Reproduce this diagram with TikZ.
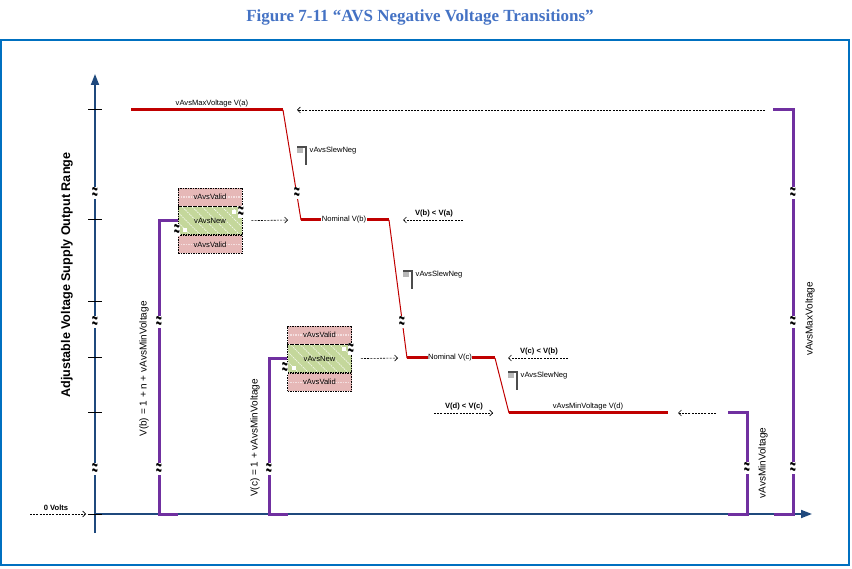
\documentclass[tikz,border=0pt]{standalone}
\usepackage{fontspec}
\setmainfont{Liberation Sans}
\newfontfamily\capfont{Liberation Serif}
\usepackage{tikz}
\usetikzlibrary{arrows.meta, positioning, calc, patterns.meta}
\usepackage{xcolor}
\definecolor{frameblue}{RGB}{0,112,192}
\definecolor{titleblue}{RGB}{68,114,196}
\definecolor{axisblue}{RGB}{31,73,125}
\definecolor{tracered}{RGB}{192,0,0}
\definecolor{railpurple}{RGB}{112,48,160}
\definecolor{validpink}{RGB}{230,184,183}
\definecolor{newgreen}{RGB}{196,215,155}

\begin{document}
\begin{tikzpicture}[x=1pt, y=-1pt,
  lbl/.style={font=\fontsize{7.6}{9}\selectfont, inner sep=0.5pt},
  blbl/.style={font=\fontsize{7.6}{9}\selectfont\bfseries, inner sep=0.5pt},
  vlbl/.style={font=\fontsize{10}{12}\selectfont, inner sep=0.5pt, rotate=90},
  axisline/.style={draw=axisblue, line width=1.8pt},
  trace/.style={draw=tracered, line width=3pt},
  slope/.style={draw=tracered, line width=1pt},
  rail/.style={draw=railpurple, line width=3pt},
  flow/.style={line width=0.6pt, dash pattern=on 2pt off 1.2pt, -{Straight Barb[length=3pt,width=6pt]}},
  brk/.style={fill=white, inner xsep=0pt, inner ysep=0.2pt, font=\fontsize{12}{12}\selectfont\bfseries},
  validrow/.style={draw, line width=0.6pt, dash pattern=on 1.5pt off 1pt, fill=validpink, minimum width=64pt, minimum height=18pt, inner sep=0pt,
    font=\fontsize{7.6}{9}\selectfont,
    path picture={\draw[white!55!validpink, line width=1.2pt] (path picture bounding box.west) -- (path picture bounding box.east);}},
  newrow/.style={draw, line width=0.6pt, dash pattern=on 1.5pt off 1pt, preaction={fill=newgreen}, pattern={Lines[angle=-45,distance=7pt,line width=0.7pt]}, pattern color=white!80!newgreen,
    minimum width=64pt, minimum height=28pt, inner sep=0pt, font=\fontsize{7.6}{9}\selectfont}]
  \useasboundingbox (0,0) rectangle (852,569);

  % Title and frame
  \node[font=\capfont\bfseries\fontsize{17}{19}\selectfont, text=titleblue] (title) at (420,17) {Figure 7-11 “AVS Negative Voltage Transitions”};
  \draw[frameblue, line width=2pt] (1,40) rectangle (849,565);

  % Axes
  \coordinate (ybot) at (95,533);
  \coordinate (ytop) at (95,74);
  \coordinate (origin) at (95,514);
  \coordinate (xend) at (812,514);
  \draw[axisline, -{Triangle[length=11pt,width=8pt]}] (ybot) -- (ytop);
  \draw[axisline, -{Triangle[length=11pt,width=8pt]}] (origin) -- (xend);
  \foreach \ty in {110,220,302,358,413,514}
    \draw[line width=1pt] (88,\ty) -- (102,\ty);
  \node[font=\fontsize{12.6}{14}\selectfont\bfseries, rotate=90] (ylabel) at (67,275) {Adjustable Voltage Supply Output Range};

  % 0 Volts
  \coordinate (zerosrc) at (30,514);
  \draw[flow] (zerosrc) -- ([xshift=-9pt]origin);
  \node[blbl] (zerolbl) at (56,508) {0 Volts};

  % Red voltage trace
  \coordinate (a1) at (131,110);
  \coordinate (a2) at (283,110);
  \coordinate (b1) at (301,220);
  \coordinate (b2) at (389,220);
  \coordinate (c1) at (407,358);
  \coordinate (c2) at (495,358);
  \coordinate (d1) at (509,413);
  \coordinate (d2) at (668,413);
  \draw[slope] (a2) -- (b1);
  \draw[slope] (b2) -- (c1);
  \draw[slope] (c2) -- (d1);
  \draw[trace] (a1) -- (a2);
  \draw[trace] (b1) -- (b2);
  \draw[trace] (c1) -- (c2);
  \draw[trace] (d1) -- (d2);
  \node[lbl, fill=white] (vmax) at (212,104) {vAvsMaxVoltage V(a)};
  \node[lbl, fill=white] (nomb) at (344,220) {Nominal V(b)};
  \node[lbl, fill=white] (nomc) at (450,358) {Nominal V(c)};
  \node[lbl] (vmin) at (588,407) {vAvsMinVoltage V(d)};

  % Slew rate marks
  \foreach \sx/\sy [count=\i] in {297/147, 403/271, 508/372} {
    \fill[gray!55] (\sx,\sy) rectangle +(6,6);
    \draw[black!70, line width=1.2pt] (\sx,\sy) -- +(9,0) -- +(9,18);
    \node[lbl, anchor=west] (slew\i) at (\sx+12,\sy+4) {vAvsSlewNeg};
  }

  % Requested voltage boxes
  \node[validrow] (lvtop) at (210,197) {vAvsValid};
  \node[newrow, below=0pt of lvtop] (lnew) {vAvsNew};
  \node[validrow, below=0pt of lnew] (lvbot) {vAvsValid};
  \node[validrow] (mvtop) at (319.5,335) {vAvsValid};
  \node[newrow, below=0pt of mvtop] (mnew) {vAvsNew};
  \node[validrow, below=0pt of mnew] (mvbot) {vAvsValid};
  \foreach \qx/\qy in {232/210, 183/228, 342/347, 292/366}
    \fill[white] (\qx,\qy) rectangle +(4,4);

  % Purple rails
  \coordinate (lfoot) at (178,514);
  \coordinate (lbend) at (159,514);
  \coordinate (mfoot) at (288,514);
  \coordinate (mbend) at (269,514);
  \coordinate (minfoot) at (728,514);
  \coordinate (minbend) at (747,514);
  \coordinate (mintop) at (728,413);
  \coordinate (maxfoot) at (774,514);
  \coordinate (maxbend) at (793,514);
  \coordinate (maxtop) at (773,110);
  \draw[rail] (lfoot) -- (lbend) |- (lnew.west);
  \draw[rail] (mfoot) -- (mbend) |- (mnew.west);
  \draw[rail] (minfoot) -- (minbend) |- (mintop);
  \draw[rail] (maxfoot) -- (maxbend) |- (maxtop);
  \node[vlbl] (lrail) at (144,369) {V(b) = 1 + n + vAvsMinVoltage};
  \node[vlbl] (mrail) at (255,438) {V(c) = 1 + vAvsMinVoltage};
  \node[vlbl] (minrail) at (763,463) {vAvsMinVoltage};
  \node[vlbl] (maxrail) at (810,319) {vAvsMaxVoltage};

  % Transition arrows
  \coordinate (vbsrc) at (463,220);
  \coordinate (vcsrc) at (568,358);
  \coordinate (vdsrc) at (434,413);
  \draw[flow] ([xshift=-8pt]maxtop) -- ([xshift=14pt]a2);
  \draw[flow] ([xshift=9pt]lnew.east) -- ([xshift=-13pt]b1);
  \draw[flow] (vbsrc) -- ([xshift=14pt]b2);
  \node[blbl] (vba) at (434,214) {V(b) < V(a)};
  \draw[flow] ([xshift=9pt]mnew.east) -- ([xshift=-9pt]c1);
  \draw[flow] (vcsrc) -- ([xshift=13pt]c2);
  \node[blbl] (vcb) at (539,352) {V(c) < V(b)};
  \draw[flow] (vdsrc) -- ([xshift=-16pt]d1);
  \node[blbl] (vdc) at (464,407) {V(d) < V(c)};
  \draw[flow] ([xshift=-12pt]mintop) -- ([xshift=10pt]d2);

  % Break marks
  \foreach \bx/\by in {95/193, 95/322, 95/469, 297/193, 402/322, 159/322, 159/469, 269/469,
                       747/468, 793/193, 793/322, 793/468, 241/212, 177/230, 351/349, 285/368}
    \node[brk] at (\bx,\by) {\scalebox{0.85}[1.9]{≈}};
\end{tikzpicture}
\end{document}
